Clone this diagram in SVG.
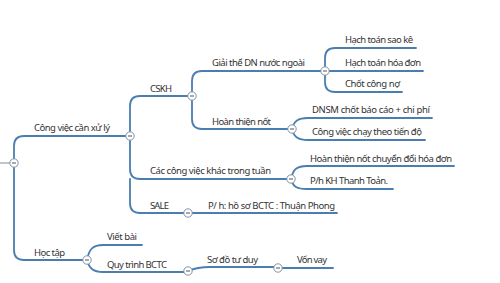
<svg xmlns="http://www.w3.org/2000/svg" width="500" height="283" viewBox="0 0 500 283">
<style>
.c{fill:none;stroke:#4a7eb0;stroke-width:1.8;stroke-linecap:round}
.t{font-family:"Noto Sans","Open Sans","DejaVu Sans",sans-serif;font-size:9.5px;fill:#333}
.k circle{fill:#fff;stroke:#7d93a8;stroke-width:1}
.k line{stroke:#555;stroke-width:1}
</style>
<defs>
<g id="knob" class="k"><circle r="4.2"/><line x1="-2" y1="0" x2="2" y2="0"/></g>
</defs>
<rect width="500" height="283" fill="#fff"/>
<g id="connectors">
<line x1="0" y1="163" x2="12" y2="163" stroke="#8a8a8a" stroke-width="1"/>
<path class="c" d="M14,163 V146 Q14,136 24,136 H130"/>
<path class="c" d="M14,163 V250 Q14,260 24,260 H87"/>
<path class="c" d="M130,136 V106 Q130,96 140,96 H192"/>
<path class="c" d="M130,136 V169 Q130,179 140,179 H291"/>
<path class="c" d="M130,179 V203 Q130,213 140,213 H188"/>
<path class="c" d="M188,213 H337"/>
<path class="c" d="M192,96 V81 Q192,71 202,71 H325"/>
<path class="c" d="M192,96 V119 Q192,129 202,129 H292"/>
<path class="c" d="M325,71 V58 Q325,48 335,48 H416"/>
<path class="c" d="M325,71 H423"/>
<path class="c" d="M325,71 V82 Q325,92 335,92 H402"/>
<path class="c" d="M292,129 C294,121 298,118 308,118 H432"/>
<path class="c" d="M292,129 C294,137 298,140 308,140 H425"/>
<path class="c" d="M291,179 C293,169 297,166 307,166 H454"/>
<path class="c" d="M291,179 C293,187 297,189 307,189 H393"/>
<path class="c" d="M87,260 C89,249 93,245 103,245 H142"/>
<path class="c" d="M87,260 C89,268 93,272 103,272 H188"/>
<path class="c" d="M188,271 C195,268 200,267 210,267 H278"/>
<path class="c" d="M278,268 H333"/>
</g>
<g id="root"><use href="#knob" x="14" y="163"/></g>
<g id="n-congviec"><text class="t" x="34" y="131" textLength="76">Công việc cần xử lý</text><use href="#knob" x="130" y="136"/></g>
<g id="n-cskh"><text class="t" x="150" y="92" textLength="22">CSKH</text><use href="#knob" x="192" y="96"/></g>
<g id="n-giaithe"><text class="t" x="212" y="66" textLength="93">Giải thể DN nước ngoài</text><use href="#knob" x="325" y="71"/></g>
<g id="n-saoke"><text class="t" x="345" y="43" textLength="68">Hạch toán sao kê</text></g>
<g id="n-hoadon"><text class="t" x="345" y="66" textLength="76">Hạch toán hóa đơn</text></g>
<g id="n-congno"><text class="t" x="345" y="87" textLength="55">Chốt công nợ</text></g>
<g id="n-hoanthien"><text class="t" x="212" y="125" textLength="59">Hoàn thiện nốt</text><use href="#knob" x="292" y="129"/></g>
<g id="n-dnsm"><text class="t" x="312" y="113" textLength="118">DNSM chốt báo cáo + chi phí</text></g>
<g id="n-tiendo"><text class="t" x="312" y="135" textLength="110">Công việc chạy theo tiến độ</text></g>
<g id="n-khac"><text class="t" x="150" y="174" textLength="121">Các công việc khác trong tuần</text><use href="#knob" x="291" y="179"/></g>
<g id="n-chuyendoi"><text class="t" x="310" y="162" textLength="142">Hoàn thiện nốt chuyển đổi hóa đơn</text></g>
<g id="n-thanhtoan"><text class="t" x="310" y="184" textLength="78">P/h KH Thanh Toản.</text></g>
<g id="n-sale"><text class="t" x="150" y="209" textLength="19">SALE</text><use href="#knob" x="188" y="213"/></g>
<g id="n-hoso"><text class="t" x="208" y="209" textLength="127">P/ h: hồ sơ BCTC : Thuận Phong</text></g>
<g id="n-hoctap"><text class="t" x="34" y="256" textLength="31">Học tập</text><use href="#knob" x="87" y="260"/></g>
<g id="n-vietbai"><text class="t" x="107" y="240" textLength="30">Viết bài</text></g>
<g id="n-quytrinh"><text class="t" x="107" y="268" textLength="60">Quy trình BCTC</text><use href="#knob" x="188" y="271"/></g>
<g id="n-sodo"><text class="t" x="207" y="263" textLength="51">Sơ đồ tư duy</text><use href="#knob" x="278" y="268"/></g>
<g id="n-vonvay"><text class="t" x="297" y="263" textLength="30">Vốn vay</text></g>
</svg>
